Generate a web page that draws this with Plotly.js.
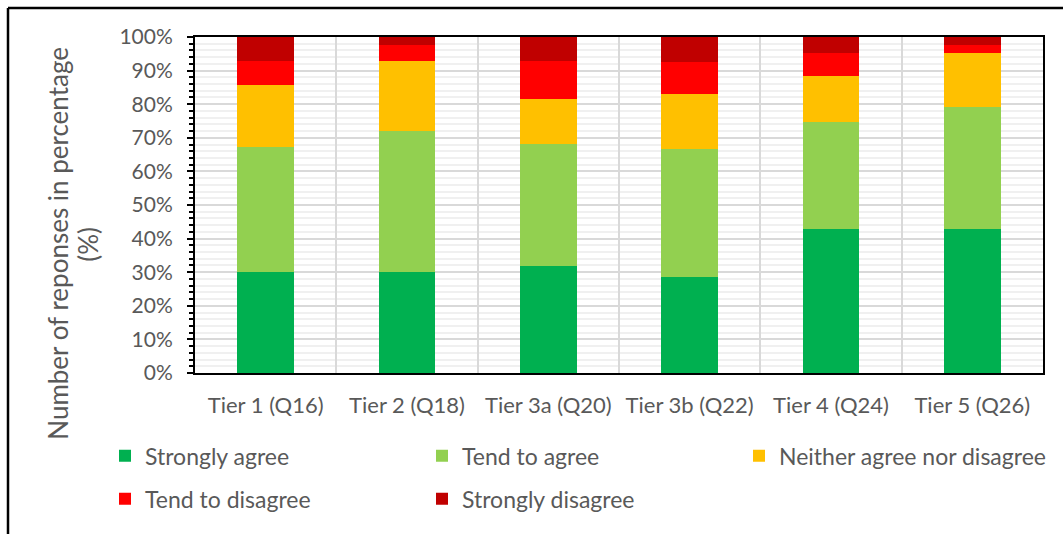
<!DOCTYPE html>
<html>
<head>
<meta charset="utf-8">
<script src="https://cdn.plot.ly/plotly-3.0.1.min.js"></script>
<style>html,body{margin:0;padding:0;background:#fff;}#chart{width:1063px;height:534px;}</style>
</head>
<body>
<div id="chart"></div>
<script>
var categories = ["Tier 1 (Q16)", "Tier 2 (Q18)", "Tier 3a (Q20)", "Tier 3b (Q22)", "Tier 4 (Q24)", "Tier 5 (Q26)"];
var stronglyAgree    = [30.1, 30.0, 31.7, 28.6, 43.0, 43.0];
var tendToAgree      = [37.3, 42.1, 36.5, 38.1, 31.7, 36.2];
var neither          = [18.3, 20.9, 13.3, 16.3, 13.6, 16.1];
var tendToDisagree   = [7.3, 4.5, 11.5, 9.6, 7.0, 2.2];
var stronglyDisagree = [7.0, 2.5, 7.0, 7.4, 4.7, 2.5];
var seriesNames  = ["Strongly agree", "Tend to agree", "Neither agree nor disagree", "Tend to disagree", "Strongly disagree"];
var seriesColors = ["#00b050", "#92d050", "#ffc000", "#ff0000", "#c00000"];
var seriesValues = [stronglyAgree, tendToAgree, neither, tendToDisagree, stronglyDisagree];
var legendRow    = ["legend", "legend", "legend", "legend2", "legend2"];
var yTitleLines  = ["Number of reponses in percentage", "(%)"];

var FONT = "Lato, 'Open Sans', sans-serif";
var TXT = "#595959";

var traces = seriesNames.map(function(n, i){
  return {
    type: "bar", name: n, x: categories, y: seriesValues[i],
    marker: {color: seriesColors[i], line: {width: 0}},
    width: 0.4, legend: legendRow[i], hoverinfo: "x+y+name"
  };
});

// plot area in pixels
var L = 195, R = 20, T = 37, B = 160.5, W = 1063, H = 534;
var pw = W - L - R, ph = H - T - B;
function px2x(p){ return (p - L) / pw; }
function py2y(p){ return (H - B - p) / ph; }

function legendDef(topPx){
  return {
    orientation: "h", traceorder: "normal",
    xref: "paper", yref: "paper",
    x: px2x(105), xanchor: "left", y: py2y(topPx), yanchor: "top",
    entrywidth: 272, entrywidthmode: "pixels",
    itemwidth: 30,
    font: {family: FONT, color: TXT, size: 23},
    bgcolor: "rgba(0,0,0,0)"
  };
}

var layout = {
  width: W, height: H,
  margin: {l: L, r: R, t: T, b: B, pad: 0, autoexpand: false},
  paper_bgcolor: "#ffffff", plot_bgcolor: "#ffffff",
  barmode: "stack",
  font: {family: FONT, color: TXT, size: 21},
  showlegend: true,
  legend: legendDef(435),
  legend2: legendDef(478),
  xaxis: {
    type: "category", tickson: "boundaries",
    showgrid: true, gridcolor: "#d9d9d9", gridwidth: 2,
    showline: true, linecolor: "#000000", linewidth: 2, mirror: true,
    ticks: "", ticklabelstandoff: 12,
    tickfont: {family: FONT, color: TXT, size: 22},
    zeroline: false, fixedrange: true
  },
  yaxis: {
    range: [0, 100], tick0: 0, dtick: 10,
    ticksuffix: "%",
    showgrid: true, gridcolor: "#d9d9d9", gridwidth: 2,
    minor: {dtick: 2, showgrid: true, gridcolor: "#f0f0f0", gridwidth: 2, ticks: "outside", ticklen: 4, tickwidth: 2, tickcolor: "#000000"},
    showline: true, linecolor: "#000000", linewidth: 2, mirror: true,
    ticks: "outside", ticklen: 6, tickwidth: 2, tickcolor: "#000000",
    ticklabelstandoff: 10,
    tickfont: {family: FONT, color: TXT, size: 21},
    zeroline: false, fixedrange: true
  },
  annotations: [
    {text: yTitleLines[0], xref: "paper", yref: "paper", x: px2x(58), y: py2y(244), xanchor: "center", yanchor: "middle",
     textangle: -90, showarrow: false, font: {family: FONT, color: TXT, size: 26}},
    {text: yTitleLines[1], xref: "paper", yref: "paper", x: px2x(88), y: py2y(244), xanchor: "center", yanchor: "middle",
     textangle: -90, showarrow: false, font: {family: FONT, color: TXT, size: 26}}
  ],
  shapes: [
    {type: "line", xref: "paper", yref: "paper", x0: px2x(8), x1: px2x(1070), y0: py2y(8), y1: py2y(8), line: {color: "#000000", width: 2.5}},
    {type: "line", xref: "paper", yref: "paper", x0: px2x(8), x1: px2x(8), y0: py2y(8), y1: py2y(540), line: {color: "#000000", width: 2.5}}
  ]
};

Plotly.newPlot("chart", traces, layout, {displayModeBar: false, staticPlot: true});
</script>
</body>
</html>
